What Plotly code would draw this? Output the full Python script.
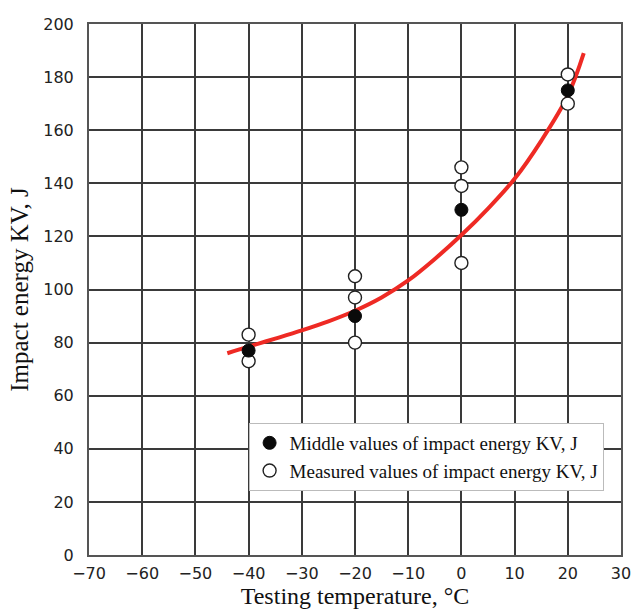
import plotly.graph_objects as go

# Data
temps = [-40, -20, 0, 20]
middle_values = [77, 90, 130, 175]

measured_temps = [-40, -40, -20, -20, -20, 0, 0, 0, 20, 20]
measured_values = [83, 73, 105, 97, 80, 146, 139, 110, 181, 170]

curve_temps = [-44, -40, -35, -30, -25, -20, -15, -10, -5, 0, 5, 10, 15, 20, 23]
curve_values = [76, 78.5, 81.5, 84.6, 88, 92, 97, 103.4, 111.5, 120.5, 130.5, 141.7, 156, 173, 189]

x_ticks = [-70, -60, -50, -40, -30, -20, -10, 0, 10, 20, 30]
y_ticks = [0, 20, 40, 60, 80, 100, 120, 140, 160, 180, 200]

fig = go.Figure()

fig.add_trace(go.Scatter(
    x=curve_temps, y=curve_values, mode="lines",
    line=dict(color="#ee2a24", width=4, shape="spline", smoothing=1.0),
    showlegend=False, hoverinfo="skip",
))

fig.add_trace(go.Scatter(
    x=measured_temps, y=measured_values, mode="markers",
    name="Measured values of impact energy KV, J",
    marker=dict(symbol="circle", size=13, color="white",
                line=dict(color="#222222", width=1.4)),
))

fig.add_trace(go.Scatter(
    x=temps, y=middle_values, mode="markers",
    name="Middle values of impact energy KV, J",
    marker=dict(symbol="circle", size=13, color="#0a0a0a",
                line=dict(color="#0a0a0a", width=1)),
))

fig.update_layout(
    width=633, height=615,
    margin=dict(l=89, r=12, t=24, b=60, autoexpand=False),
    paper_bgcolor="white", plot_bgcolor="white",
    font=dict(family="DejaVu Sans", size=16, color="#222222"),
    legend=dict(
        x=0.30, y=0.2486, xanchor="left", yanchor="top",
        bgcolor="white", bordercolor="#bbbbbb", borderwidth=1,
        font=dict(family="Liberation Serif", size=19, color="#111111"),
        traceorder="reversed",
        itemwidth=30,
        tracegroupgap=0,
    ),
)

fig.update_xaxes(
    range=[-70, 30], tickvals=x_ticks,
    ticktext=["\u2212" + str(-v) if v < 0 else str(v) for v in x_ticks],
    showgrid=True, gridcolor="#3a3a3a", gridwidth=1.5,
    zeroline=False, showline=True, linecolor="#555555", linewidth=2, mirror=True,
    ticks="", ticklabelstandoff=3, automargin=False, ticklabeloverflow="allow",
    title=dict(text="Testing temperature, \u00b0C",
               font=dict(family="Liberation Serif", size=24, color="#111111"),
               standoff=2),
)

fig.update_yaxes(
    range=[0, 200], tickvals=y_ticks,
    showgrid=True, gridcolor="#3a3a3a", gridwidth=1.5,
    zeroline=False, showline=True, linecolor="#555555", linewidth=2, mirror=True,
    ticks="", ticklabelstandoff=10, automargin=False,
    title=dict(text="Impact energy KV, J",
               font=dict(family="Liberation Serif", size=25, color="#111111"),
               standoff=8),
)

fig.write_html(
    "out.html",
    config={"displayModeBar": False},
    post_script="document.body.style.margin='0';document.body.style.overflow='hidden';",
)
